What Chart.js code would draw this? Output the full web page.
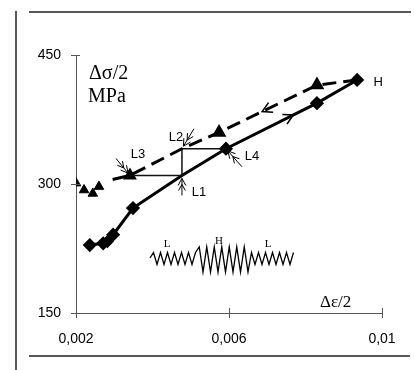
<!DOCTYPE html>
<html lang="en">
<head>
    <meta charset="UTF-8">
    <title>Cyclic stress amplitude - L/H/L blocks</title>
    <script src="https://cdn.jsdelivr.net/npm/chart.js"></script>
    <style>
        html, body { margin: 0; padding: 0; background: #fff; }
        #chart { display: block; }
    </style>
</head>
<body>
    <canvas id="chart" width="414" height="370"></canvas>

    <script>
        // loading branch L -> H (solid, diamonds)
        const upX = [0.00236, 0.00271, 0.00282, 0.00297, 0.00349, 0.00477, 0.00592, 0.0083, 0.00935];
        const upY = [229, 231, 233, 241, 272, 310, 341, 394, 421];
        const upRadius = [5, 5, 4.5, 5, 5, 0, 5, 5, 5];

        // unloading branch H -> L (dashed, triangles)
        const downX = [0.00935, 0.0083, 0.00574, 0.00477, 0.00341, 0.00294];
        const downY = [421, 415, 360, 341, 310, 305];
        const downRadius = [0, 5.5, 5.5, 0, 5, 0];

        // first cycles, triangles only
        const startX = [0.002, 0.00221, 0.00244, 0.0026];
        const startY = [301, 293, 289, 297];

        // thin step path L3 -> L1 -> L2 -> L4
        const stepX = [0.00341, 0.00477, 0.00477, 0.00592];
        const stepY = [310, 310, 341, 341];
        const stepNames = ["L3", "L1", "L2", "L4"];

        const xTicks = [0.002, 0.006, 0.01];
        const yTicks = [150, 300, 450];

        const pts = (xs, ys) => xs.map((v, i) => ({ x: v, y: ys[i] }));

        function arrowHead(ctx, tx, ty, fx, fy, len) {
            const a = Math.atan2(ty - fy, tx - fx);
            ctx.beginPath();
            ctx.moveTo(tx - len * Math.cos(a - 0.5), ty - len * Math.sin(a - 0.5));
            ctx.lineTo(tx, ty);
            ctx.lineTo(tx - len * Math.cos(a + 0.5), ty - len * Math.sin(a + 0.5));
            ctx.stroke();
        }

        // pointer offsets for step labels: [arrow start dx, dy, label dx, dy]
        const pointerOffsets = {
            L3: [-14, -17, 8, -21],
            L1: [0, 20, 17, 17],
            L2: [12, -20, -6, -11],
            L4: [16, 18, 26, 8]
        };

        const decor = {
            id: "decor",
            afterDraw(chart) {
                const ctx = chart.ctx;
                const x = chart.scales.x, y = chart.scales.y;
                ctx.save();

                // outer frame
                ctx.strokeStyle = "#222";
                ctx.lineWidth = 1.5;
                ctx.beginPath();
                ctx.moveTo(16, 11); ctx.lineTo(16, 370);
                ctx.moveTo(29, 12); ctx.lineTo(411, 12);
                ctx.moveTo(29, 356); ctx.lineTo(410, 356);
                ctx.stroke();

                // crossing tick marks
                ctx.strokeStyle = "#555";
                ctx.lineWidth = 1;
                ctx.beginPath();
                yTicks.forEach(v => {
                    const py = Math.round(y.getPixelForValue(v)) + 0.5;
                    ctx.moveTo(x.left - 5, py); ctx.lineTo(x.left + 4, py);
                });
                xTicks.forEach(v => {
                    const px = Math.round(x.getPixelForValue(v)) + 0.5;
                    ctx.moveTo(px, y.bottom - 5); ctx.lineTo(px, y.bottom + 5);
                });
                ctx.stroke();

                // axis titles
                ctx.fillStyle = "#000";
                ctx.font = "20px 'Liberation Serif', serif";
                ctx.textBaseline = "alphabetic";
                ctx.textAlign = "left";
                ctx.fillText("\u0394\u03c3/2", 89, 79);
                ctx.fillText("MPa", 88, 102);
                ctx.font = "17px 'Liberation Serif', serif";
                ctx.fillText("\u0394\u03b5/2", 320, 307);

                // step labels with pointers
                ctx.strokeStyle = "#000";
                ctx.lineWidth = 1;
                ctx.font = "13px 'Liberation Sans', Arial, sans-serif";
                ctx.textAlign = "center";
                ctx.textBaseline = "middle";
                stepNames.forEach((name, i) => {
                    const px = x.getPixelForValue(stepX[i]);
                    const py = y.getPixelForValue(stepY[i]);
                    const o = pointerOffsets[name];
                    const sx = px + o[0], sy = py + o[1];
                    const d = Math.hypot(o[0], o[1]);
                    const ex = px + o[0] * 3 / d, ey = py + o[1] * 3 / d;
                    ctx.beginPath();
                    ctx.moveTo(sx, sy); ctx.lineTo(ex, ey);
                    ctx.stroke();
                    arrowHead(ctx, ex, ey, sx, sy, 8);
                    arrowHead(ctx, ex + (sx - ex) * 0.35, ey + (sy - ey) * 0.35, sx, sy, 7);
                    ctx.fillText(name, px + o[2], py + o[3]);
                });

                // H label at the peak
                const hx = x.getPixelForValue(upX[upX.length - 1]);
                const hy = y.getPixelForValue(upY[upY.length - 1]);
                ctx.fillText("H", hx + 21, hy + 2);

                // direction chevrons on both branches
                ctx.lineWidth = 1.5;
                const chevron = (xs, ys, i, t) => {
                    const x0 = x.getPixelForValue(xs[i]), y0 = y.getPixelForValue(ys[i]);
                    const x1 = x.getPixelForValue(xs[i + 1]), y1 = y.getPixelForValue(ys[i + 1]);
                    const cx = x0 + (x1 - x0) * t, cy = y0 + (y1 - y0) * t;
                    arrowHead(ctx, cx, cy, x0, y0, 11);
                };
                chevron(upX, upY, 6, 0.74);
                chevron(downX, downY, 1, 0.56);

                // inset: block loading signal L - H - L
                ctx.lineWidth = 1.3;
                ctx.beginPath();
                let px = 150;
                ctx.moveTo(px, 258);
                const zig = (end, amp, step, cy) => {
                    let up = true;
                    while (px < end) {
                        px += step / 2;
                        ctx.lineTo(px, cy + (up ? -amp : amp));
                        up = !up;
                    }
                };
                zig(193, 6, 7, 258.5);
                zig(247, 12.5, 7.5, 259.5);
                zig(293, 6, 7, 258.5);
                ctx.stroke();
                ctx.font = "11px 'Liberation Serif', serif";
                ctx.fillText("L", 167, 244);
                ctx.fillText("H", 219, 241);
                ctx.fillText("L", 268, 244);

                ctx.restore();
            }
        };

        const fmt = v => String(+v.toFixed(3)).replace(".", ",");

        new Chart(document.getElementById("chart"), {
            type: "scatter",
            data: {
                datasets: [
                    {
                        data: pts(stepX, stepY),
                        showLine: true,
                        borderColor: "#111",
                        borderWidth: 1.5,
                        pointRadius: 0
                    },
                    {
                        data: pts(downX, downY),
                        showLine: true,
                        borderColor: "#000",
                        backgroundColor: "#000",
                        borderWidth: 3,
                        borderDash: [14, 7],
                        pointStyle: "triangle",
                        pointRadius: downRadius
                    },
                    {
                        data: pts(startX, startY),
                        showLine: false,
                        borderColor: "#000",
                        backgroundColor: "#000",
                        pointStyle: "triangle",
                        pointRadius: 5.5
                    },
                    {
                        data: pts(upX, upY),
                        showLine: true,
                        borderColor: "#000",
                        backgroundColor: "#000",
                        borderWidth: 3,
                        pointStyle: "rectRot",
                        pointRadius: upRadius
                    }
                ]
            },
            options: {
                responsive: false,
                animation: false,
                devicePixelRatio: 1,
                layout: { padding: { top: 55, right: 32, left: 0, bottom: 0 } },
                plugins: { legend: { display: false }, tooltip: { enabled: false } },
                scales: {
                    x: {
                        type: "linear",
                        min: 0.002,
                        max: 0.01,
                        afterFit: s => { s.height = 57; },
                        afterBuildTicks: s => { s.ticks = xTicks.map(v => ({ value: v })); },
                        grid: { display: false, drawTicks: false },
                        border: { display: true, color: "#555", width: 1 },
                        ticks: {
                            padding: 18,
                            color: "#000",
                            maxRotation: 0,
                            font: { family: "'Liberation Sans', Arial, sans-serif", size: 14 },
                            callback: v => fmt(v)
                        }
                    },
                    y: {
                        type: "linear",
                        min: 150,
                        max: 450,
                        afterFit: s => { s.width = 76; },
                        afterBuildTicks: s => { s.ticks = yTicks.map(v => ({ value: v })); },
                        grid: { display: false, drawTicks: false },
                        border: { display: true, color: "#555", width: 1 },
                        ticks: {
                            padding: 15,
                            color: "#000",
                            font: { family: "'Liberation Sans', Arial, sans-serif", size: 14 },
                            callback: v => String(v)
                        }
                    }
                }
            },
            plugins: [decor]
        });
    </script>
</body>
</html>
